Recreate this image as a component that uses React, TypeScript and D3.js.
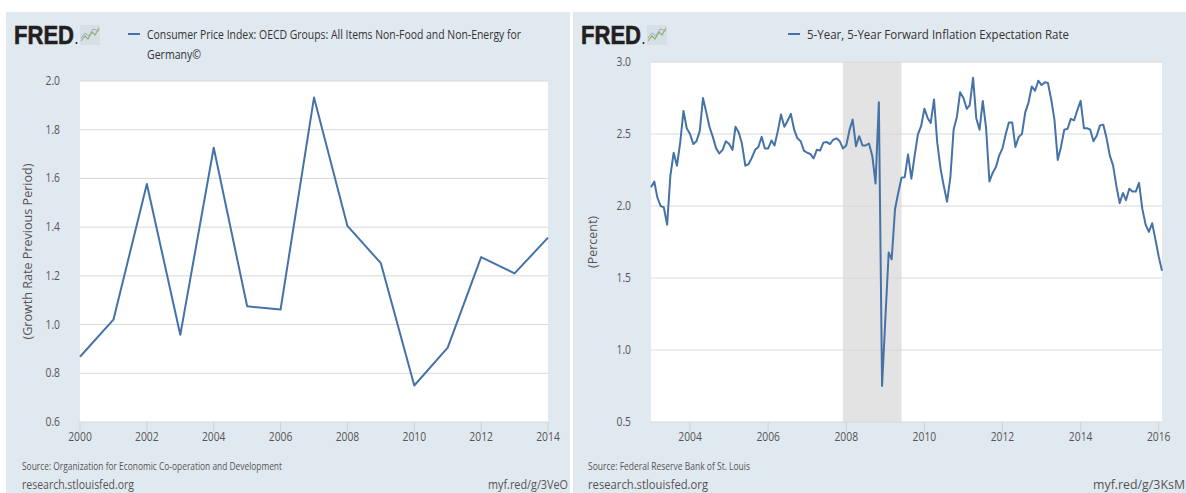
import React from 'react';
import * as d3 from 'd3';

const W = 1186;
const H = 493;

// ---------- Left chart: CPI Germany (annual growth rate) ----------
const cpiYears = [2000, 2001, 2002, 2003, 2004, 2005, 2006, 2007, 2008, 2009, 2010, 2011, 2012, 2013, 2014];
const cpiValues = [0.868, 1.02, 1.577, 0.958, 1.726, 1.075, 1.062, 1.932, 1.405, 1.252, 0.75, 0.905, 1.277, 1.21, 1.357];
const cpiYTicks = [0.6, 0.8, 1.0, 1.2, 1.4, 1.6, 1.8, 2.0];
const cpiXTicks = [2000, 2002, 2004, 2006, 2008, 2010, 2012, 2014];

// ---------- Right chart: 5y5y forward inflation expectation (monthly, Jan 2003 - Feb 2016) ----------
const bevStart = new Date(2003, 0, 1);
const bev2003 = [2.13, 2.17, 2.06, 2.0, 1.99, 1.87, 2.21, 2.37, 2.28, 2.44, 2.66, 2.54];
const bev2004 = [2.5, 2.43, 2.45, 2.52, 2.75, 2.65, 2.55, 2.48, 2.4, 2.365, 2.39, 2.45];
const bev2005 = [2.43, 2.39, 2.55, 2.51, 2.43, 2.28, 2.29, 2.335, 2.39, 2.41, 2.48, 2.4];
const bev2006 = [2.4, 2.455, 2.42, 2.52, 2.635, 2.55, 2.59, 2.64, 2.53, 2.47, 2.45, 2.385];
const bev2007 = [2.37, 2.36, 2.33, 2.39, 2.385, 2.44, 2.445, 2.43, 2.46, 2.47, 2.45, 2.4];
const bev2008 = [2.42, 2.53, 2.6, 2.415, 2.485, 2.42, 2.42, 2.434, 2.346, 2.157, 2.72, 0.75];
const bev2009 = [1.22, 1.677, 1.63, 1.977, 2.09, 2.197, 2.2, 2.358, 2.19, 2.346, 2.497, 2.554];
const bev2010 = [2.675, 2.61, 2.577, 2.74, 2.44, 2.26, 2.14, 2.03, 2.2, 2.53, 2.62, 2.79];
const bev2011 = [2.75, 2.675, 2.7, 2.89, 2.61, 2.53, 2.73, 2.54, 2.17, 2.23, 2.27, 2.35];
const bev2012 = [2.4, 2.5, 2.58, 2.58, 2.41, 2.48, 2.5, 2.65, 2.72, 2.83, 2.8, 2.87];
const bev2013 = [2.84, 2.86, 2.855, 2.74, 2.6, 2.32, 2.41, 2.53, 2.536, 2.605, 2.595, 2.665];
const bev2014 = [2.73, 2.54, 2.54, 2.53, 2.45, 2.49, 2.56, 2.565, 2.47, 2.35, 2.28, 2.14];
const bev2015 = [2.02, 2.09, 2.04, 2.12, 2.1, 2.1, 2.16, 1.98, 1.87, 1.82, 1.88, 1.77];
const bev2016 = [1.65, 1.55];
const bevValues = [
  ...bev2003, ...bev2004, ...bev2005, ...bev2006, ...bev2007, ...bev2008, ...bev2009,
  ...bev2010, ...bev2011, ...bev2012, ...bev2013, ...bev2014, ...bev2015, ...bev2016,
];
const bevYTicks = [0.5, 1.0, 1.5, 2.0, 2.5, 3.0];
const bevXTicks = [2004, 2006, 2008, 2010, 2012, 2014, 2016];
const recessionStart = new Date(2007, 11, 1);
const recessionEnd = new Date(2009, 5, 1);

// ---------- Style ----------
const LINE = '#4572a7';
const PANEL = '#e1e9f0';
const GRID = '#d8d8d8';
const TICK = '#c8d3df';
const TXT = '#333333';
const AXT = '#555555';
const FONT = "'Open Sans', 'Liberation Sans', sans-serif";

type TP = {
  x: number; y: number; size: number; children: React.ReactNode; anchor?: string;
  sx?: number; fill?: string; weight?: number | string; rotate?: number; len?: number;
};
function T({ x, y, size, children, anchor = 'start', sx = 0.86, fill = TXT, weight = 400, rotate = 0, len }: TP) {
  const tr = `translate(${x},${y})${rotate ? ` rotate(${rotate})` : ''}${len ? '' : ` scale(${sx},1)`}`;
  return (
    <text
      transform={tr}
      fontSize={size}
      fontFamily={FONT}
      fontWeight={weight as any}
      fill={fill}
      textAnchor={anchor as any}
      {...(len ? { textLength: len, lengthAdjust: 'spacingAndGlyphs' } : {})}
    >
      {children}
    </text>
  );
}

function FredLogo({ x, y }: { x: number; y: number }) {
  return (
    <g>
      <text x={x} y={y} fontSize={25} fontWeight={900} fontFamily="'Liberation Sans', Arial, sans-serif"
        fill="#231f20" stroke="#231f20" strokeWidth={0.6} textLength={60} lengthAdjust="spacingAndGlyphs">FRED</text>
      <circle cx={x + 62.5} cy={y - 1} r={1} fill="#231f20" />
      <rect x={x + 66} y={y - 19} width={20} height={20} fill="#d7dfe6" />
      <polyline points={`${x + 67},${y - 3} ${x + 71},${y - 8} ${x + 74},${y - 5} ${x + 78},${y - 12} ${x + 81},${y - 9} ${x + 85},${y - 16}`}
        fill="none" stroke="#8fb36a" strokeWidth={1.2} />
      <polyline points={`${x + 67},${y - 6} ${x + 71},${y - 11} ${x + 75},${y - 8} ${x + 79},${y - 15} ${x + 85},${y - 13}`}
        fill="none" stroke="#9aa9b8" strokeWidth={1} />
    </g>
  );
}

function LeftChart() {
  const x0 = 80, x1 = 548, y0 = 81, y1 = 422;
  const x = d3.scaleLinear().domain([2000, 2014]).range([x0, x1]);
  const y = d3.scaleLinear().domain([0.6, 2.0]).range([y1, y0]);
  const line = d3.line<number>().x((_, i) => x(cpiYears[i])).y((d) => y(d));
  return (
    <g>
      <rect x={6} y={12} width={564} height={H - 12} fill={PANEL} />
      <FredLogo x={14} y={44} />
      <line x1={128} x2={140} y1={34} y2={34} stroke={LINE} strokeWidth={2} />
      <T x={147} y={39} size={12.5} len={374}>Consumer Price Index: OECD Groups: All Items Non-Food and Non-Energy for</T>
      <T x={147} y={59} size={12.5} len={54}>Germany©</T>
      <rect x={x0} y={y0} width={x1 - x0} height={y1 - y0} fill="#ffffff" />
      {cpiYTicks.map((t) => (
        <g key={t}>
          <line x1={x0} x2={x1} y1={y(t)} y2={y(t)} stroke={GRID} strokeWidth={1} />
          <T x={x0 - 20} y={y(t) + 4} size={12} anchor="end" fill={AXT}>{d3.format('.1f')(t)}</T>
        </g>
      ))}
      {cpiXTicks.map((t) => (
        <g key={t}>
          <line x1={x(t)} x2={x(t)} y1={y1} y2={y1 + 10} stroke={TICK} strokeWidth={1} />
          <T x={x(t)} y={441} size={12} anchor="middle" fill={AXT}>{t}</T>
        </g>
      ))}
      <path d={line(cpiValues) || ''} fill="none" stroke={LINE} strokeWidth={2} strokeLinejoin="round" />
      <T x={32} y={(y0 + y1) / 2} size={12} anchor="middle" fill={AXT} rotate={-90} len={176}>(Growth Rate Previous Period)</T>
      <T x={22} y={470} size={10.5} fill={AXT} len={260}>Source: Organization for Economic Co-operation and Development</T>
      <T x={22} y={489} size={12.5} fill={AXT} len={112}>research.stlouisfed.org</T>
      <T x={568} y={489} size={12.5} fill={AXT} anchor="end" len={80}>myf.red/g/3VeO</T>
    </g>
  );
}

function RightChart() {
  const x0 = 651, x1 = 1162, y0 = 62, y1 = 422;
  const dates = bevValues.map((_, i) => d3.timeMonth.offset(bevStart, i));
  const x = d3.scaleTime().domain([dates[0], dates[dates.length - 1]]).range([x0, x1]);
  const y = d3.scaleLinear().domain([0.5, 3.0]).range([y1, y0]);
  const line = d3.line<number>().x((_, i) => x(dates[i])).y((d) => y(d));
  return (
    <g>
      <rect x={573} y={12} width={W - 573} height={H - 12} fill={PANEL} />
      <FredLogo x={581} y={44} />
      <line x1={788} x2={800} y1={34} y2={34} stroke={LINE} strokeWidth={2} />
      <T x={807} y={39} size={12.5} len={262}>5-Year, 5-Year Forward Inflation Expectation Rate</T>
      <rect x={x0} y={y0} width={x1 - x0} height={y1 - y0} fill="#ffffff" />
      <rect x={x(recessionStart)} y={y0} width={x(recessionEnd) - x(recessionStart)} height={y1 - y0} fill="#e3e3e3" />
      {bevYTicks.map((t) => (
        <g key={t}>
          <line x1={x0} x2={x1} y1={y(t)} y2={y(t)} stroke={GRID} strokeWidth={1} />
          <T x={x0 - 20} y={y(t) + 4} size={12} anchor="end" fill={AXT}>{d3.format('.1f')(t)}</T>
        </g>
      ))}
      {bevXTicks.map((t) => {
        const xx = x(new Date(t, 0, 1));
        return (
          <g key={t}>
            <line x1={xx} x2={xx} y1={y1} y2={y1 + 10} stroke={TICK} strokeWidth={1} />
            <T x={xx} y={441} size={12} anchor="middle" fill={AXT}>{t}</T>
          </g>
        );
      })}
      <path d={line(bevValues) || ''} fill="none" stroke={LINE} strokeWidth={2} strokeLinejoin="round" />
      <T x={597} y={(y0 + y1) / 2} size={12} anchor="middle" fill={AXT} rotate={-90} len={52}>(Percent)</T>
      <T x={588} y={470} size={10.5} fill={AXT} len={162}>Source: Federal Reserve Bank of St. Louis</T>
      <T x={588} y={489} size={12.5} fill={AXT} len={120}>research.stlouisfed.org</T>
      <T x={1185} y={489} size={12.5} fill={AXT} anchor="end" len={92}>myf.red/g/3KsM</T>
    </g>
  );
}

export default function App() {
  return (
    <svg width={W} height={H} viewBox={`0 0 ${W} ${H}`}
      style={{ position: 'absolute', left: 0, top: 0, display: 'block', background: '#ffffff' }}>
      <rect x={0} y={0} width={W} height={H} fill="#ffffff" />
      <LeftChart />
      <RightChart />
    </svg>
  );
}
